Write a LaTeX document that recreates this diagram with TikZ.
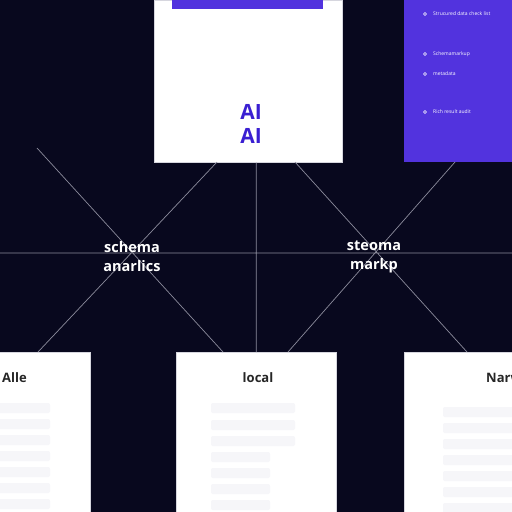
\documentclass[tikz,border=0pt]{standalone}
\usepackage{fontspec}
\setmainfont{Open Sans}
\usetikzlibrary{positioning}
\definecolor{navy}{HTML}{08081E}
\definecolor{violet}{HTML}{5233DE}
\definecolor{aiblue}{HTML}{3A1FD2}
\definecolor{wire}{HTML}{8C8C9C}
\definecolor{rim}{HTML}{D6D6DE}
\definecolor{ghost}{HTML}{F6F6F9}

\begin{document}
\begin{tikzpicture}[x=1pt,y=-1pt,
    card/.style={draw=rim, fill=white, line width=0.6pt, anchor=north west, inner sep=0pt},
    panel/.style={fill=violet, anchor=north west, inner sep=0pt},
    wire/.style={draw=wire, line width=0.7pt},
    hub/.style={text=white, font=\fontsize{14.5}{19}\selectfont\bfseries, align=center, inner sep=0pt},
    ailabel/.style={text=aiblue, font=\fontsize{21}{21}\selectfont\bfseries, inner sep=0pt},
    title/.style={text=black!85, font=\fontsize{13}{13}\selectfont\bfseries, inner sep=0pt},
    item/.style={text=white, font=\fontsize{5}{5}\selectfont, anchor=west, inner sep=0pt},
    dot/.style={draw=white, fill=violet, circle, line width=0.6pt, inner sep=0pt, minimum size=3pt},
    ghostbar/.style={fill=ghost, rounded corners=2pt}]
    % \draw[help lines] (0,0) grid (512,512);

  \useasboundingbox (0,0) rectangle (512,512);
  \clip (0,0) rectangle (512,512);
  \fill[navy] (0,0) rectangle (512,512);

  % boxes
  \node[card, minimum width=188pt, minimum height=162pt]  (top)    at (154,0)   {};
  \node[panel, minimum width=110pt, minimum height=162pt] (side)   at (404,0)   {};
  \node[card, minimum width=91pt, minimum height=162pt]   (left)   at (-1,352)  {};
  \node[card, minimum width=160pt, minimum height=162pt]  (centre) at (176,352) {};
  \node[card, minimum width=110pt, minimum height=162pt]  (right)  at (404,352) {};

  \fill[violet] (172,0) rectangle (323,9);

  % connector ends
  \coordinate (w)  at (0,253);
  \coordinate (e)  at (512,253);
  \coordinate (nw) at (37,148);
  \coordinate (a1) at (217,162);
  \coordinate (a2) at (295,162);
  \coordinate (a3) at (455,162);
  \coordinate (b1) at (38,352);
  \coordinate (b2) at (223,352);
  \coordinate (b3) at (288,352);
  \coordinate (b4) at (467,352);

  \path[wire] (w) -- (e)
              (centre.north |- top.south) -- (centre.north)
              (nw) -- (b2)
              (a1) -- (b1)
              (a2) -- (b4)
              (a3) -- (b3);

  % labels
  \node[ailabel]                   (ai1) at (251,112) {AI};
  \node[ailabel, below=9pt of ai1] (ai2)              {AI};

  \node[hub] (schema) at (132,257) {schema\\anarlics};
  \node[hub] (steoma) at (374,257) {steoma\\markp};

  \node[title, anchor=west] (alle)  at (2,378)   {Alle};
  \node[title]              (local) at (258,378) {local};
  \node[title, anchor=west] (narw)  at (486,378) {Narw};

  % side list
  \foreach \y/\t in {14/Strucured data check list,
                     54/Schemamarkup,
                     74/metadata,
                     112/Rich result audit}{
    \node[dot] at (425,\y) {};
    \node[item] at (433,\y) {\t};
  }

  % faint placeholder rows
  \foreach \y in {403,420,436} {
    \fill[ghostbar] (211,\y) rectangle (295,\y+10);
  }
  \foreach \y in {452,468,484,500} {
    \fill[ghostbar] (211,\y) rectangle (270,\y+10);
  }
  \foreach \y in {403,419,435,451,467,483,499} {
    \fill[ghostbar] (-3,\y) rectangle (50,\y+10);
    \fill[ghostbar] (443,\y+4) rectangle (515,\y+14);
  }
\end{tikzpicture}
\end{document}
